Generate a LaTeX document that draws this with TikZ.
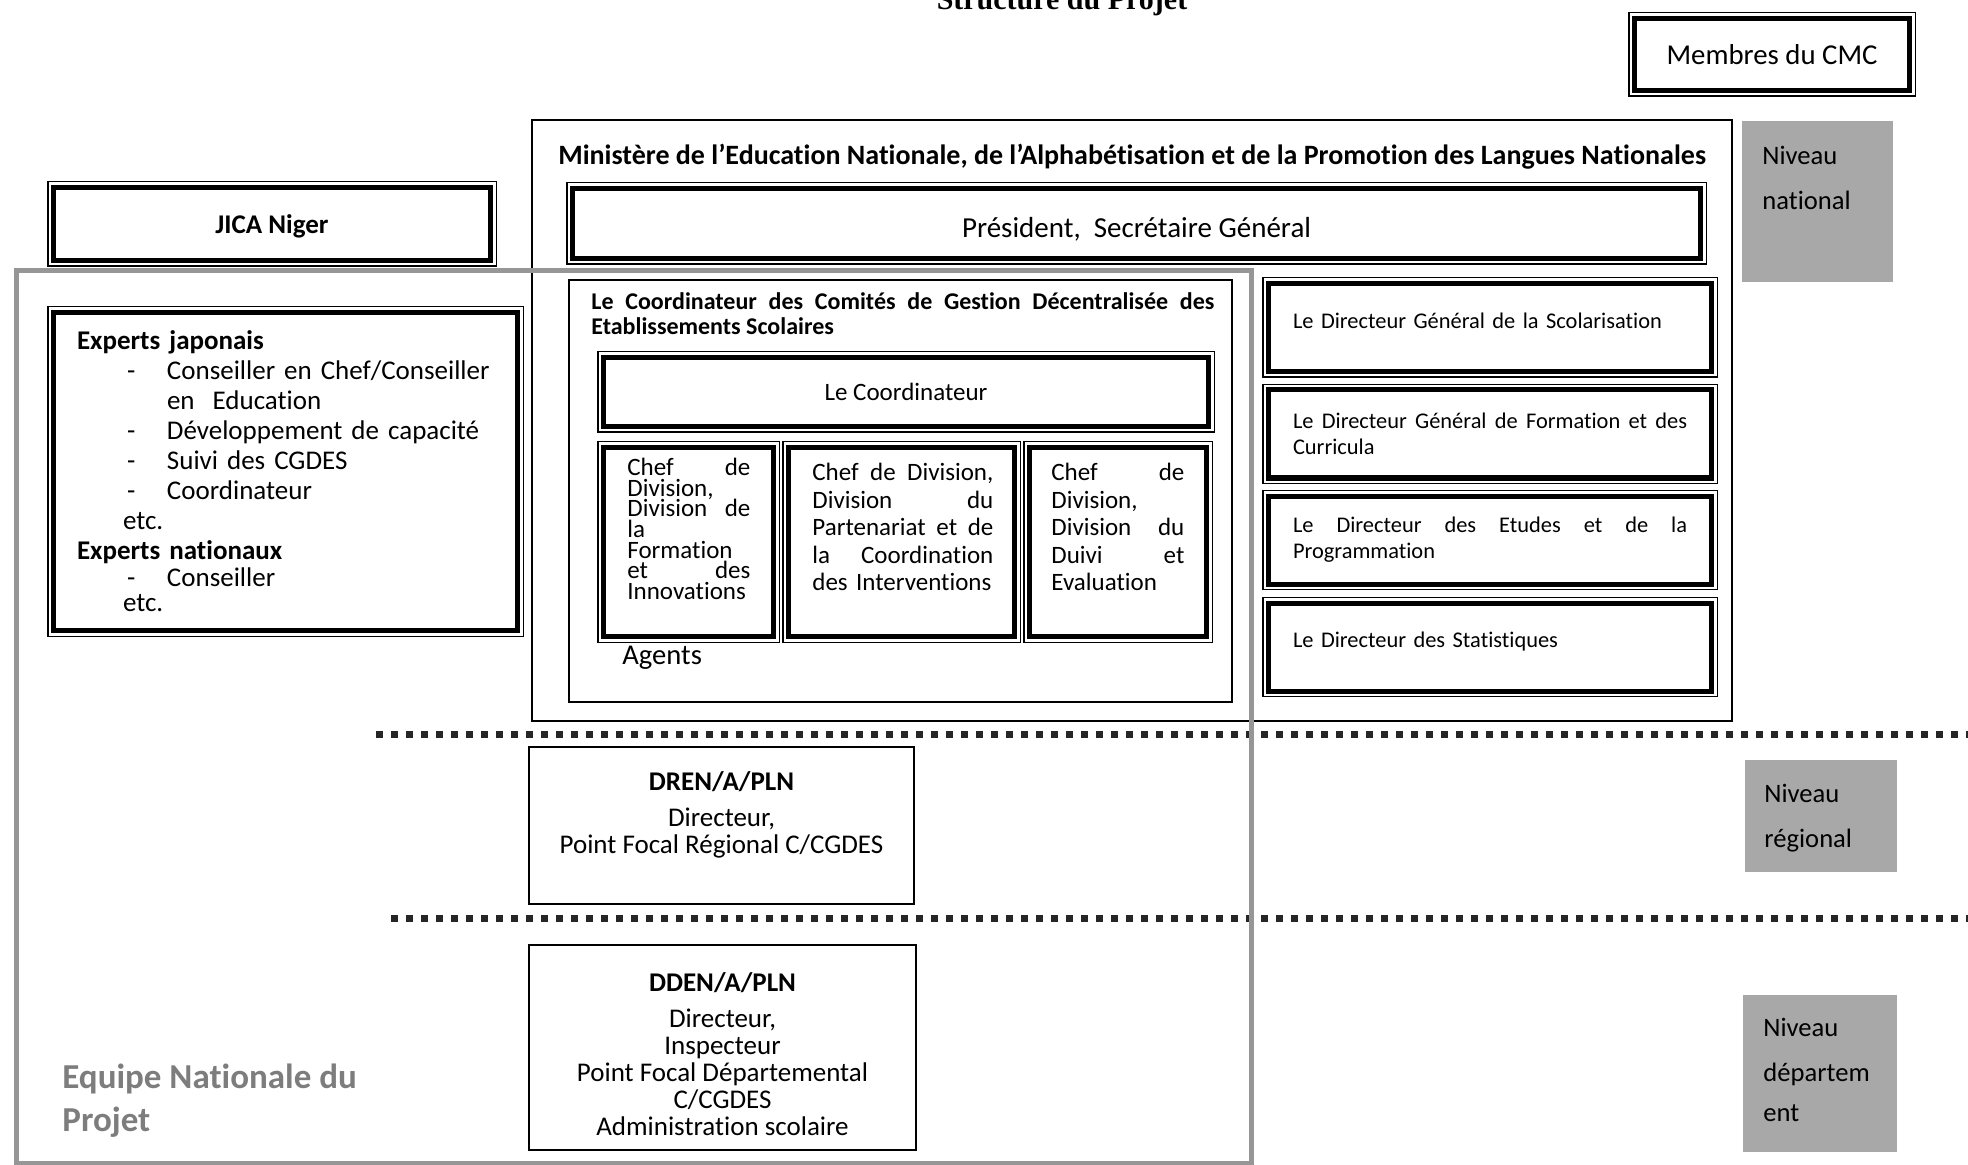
\documentclass[tikz,border=0pt]{standalone}
\usepackage{fontspec}
\setmainfont{Carlito}[Ligatures=NoCommon]
\newfontfamily\titlefont{Liberation Serif}

\definecolor{levelgray}{RGB}{168,168,168}
\definecolor{teamgray}{RGB}{150,150,150}
\definecolor{teamtext}{RGB}{125,125,125}

\newcommand{\dashitem}{\hspace*{25pt}\makebox[20pt][l]{-}}

\tikzset{
  dblbox/.style={draw, line width=2.5pt, outer sep=0pt, inner sep=0pt,
    append after command={\pgfextra{\draw[line width=0.6pt]
      ([shift={(-2.8pt,2.8pt)}]\tikzlastnode.north west) rectangle
      ([shift={(2.8pt,-2.8pt)}]\tikzlastnode.south east);}}},
  thinbox/.style={draw, line width=1pt, inner sep=0pt},
  dirbox/.style={dblbox, minimum width=221.5pt, minimum height=44pt, inner xsep=12.25pt,
    text width=197pt, align=left, font=\fontsize{11.2}{13}\selectfont},
  levelbox/.style={fill=levelgray, inner sep=0pt},
  leveltext/.style={anchor=north west, inner sep=0pt, align=left, font=\fontsize{13.3}{22.5}\selectfont},
  levelsep/.style={line width=3.5pt, dash pattern=on 3.5pt off 4pt, color=black!85},
}

\begin{document}
\begin{tikzpicture}[x=0.5pt, y=-0.5pt]
\useasboundingbox (0,0) rectangle (1968,1165);

% title, cut at the top of the page
\begin{scope}
\clip (0,0) rectangle (1968,1165);
\node[anchor=base, inner sep=0pt, font=\titlefont\bfseries\fontsize{15}{17}\selectfont] (title) at (1062,10) {Structure du Projet};
\end{scope}

\node[dblbox, minimum width=137.5pt, minimum height=36pt, font=\fontsize{14.4}{16}\selectfont] (cmc) at (1772,54.5) {Membres du CMC};

% ministry
\node[thinbox, minimum width=600pt, minimum height=300.5pt] (men) at (1132,420.5) {};
\node[anchor=base, inner sep=0pt, font=\bfseries\fontsize{14}{15}\selectfont] (mentitle) at (1132,165) {Ministère de l’Education Nationale, de l’Alphabétisation et de la Promotion des Langues Nationales};
\node[dblbox, minimum width=564pt, minimum height=35pt, text height=17pt, text depth=3pt, font=\fontsize{14.5}{16}\selectfont] (pres) at (1136.5,223.5) {Président,\ \ Secrétaire Général};

% JICA side
\node[dblbox, minimum width=218.5pt, minimum height=36.5pt, text depth=0pt, font=\bfseries\fontsize{13.5}{16}\selectfont] (jica) at (272,224) {JICA Niger};
\node[dblbox, minimum width=232pt, minimum height=159pt, inner xsep=11.75pt, text width=208.5pt, align=left, font=\fontsize{13.5}{15}\selectfont] (experts) at (285.5,471.5) {\textbf{Experts japonais}\\
\dashitem Conseiller en Chef/Conseiller\\
\hspace*{45pt}en\ \ Education\\
\dashitem Développement de capacité\\
\dashitem Suivi des CGDES\\
\dashitem Coordinateur\\
\hspace*{23pt}etc.\\
\textbf{Experts nationaux}\\[-1.5pt]
\dashitem Conseiller\\[-2.5pt]
\hspace*{23pt}etc.};

% coordinator of the CGDES
\node[thinbox, minimum width=331.5pt, minimum height=211pt] (cgdes) at (900.5,491) {};
\node[anchor=north west, inner sep=0pt, text width=311.5pt, align=justify, font=\bfseries\fontsize{12}{12.5}\selectfont] (cgdestitle) at (591,292) {Le Coordinateur des Comités de Gestion Décentralisée des\linebreak Etablissements Scolaires};
\node[dblbox, minimum width=302.5pt, minimum height=34.5pt, font=\fontsize{12.5}{14}\selectfont] (coord) at (906,392) {Le Coordinateur};

\node[dblbox, minimum width=85pt, minimum height=94.5pt] (chefA) at (688.5,542) {};
\node[dblbox, minimum width=113pt, minimum height=94.5pt] (chefB) at (901.5,542) {};
\node[dblbox, minimum width=88.5pt, minimum height=94.5pt] (chefC) at (1118,542) {};
\node[anchor=north west, inner sep=0pt, text width=61.5pt, align=left, font=\fontsize{12.5}{10.3}\selectfont] (chefAtxt) at (627,458) {Chef\hfill de\\Division,\\Division\hfill de\\la\\Formation\\et\hfill des\\Innovations};
\node[anchor=north west, inner sep=0pt, text width=90.5pt, align=left, font=\fontsize{12.5}{13.75}\selectfont] (chefBtxt) at (812,463) {Chef\hfill de\hfill Division,\\Division\hfill du\\Partenariat\hfill et\hfill de\\la\hfill Coordination\\des Interventions};
\node[anchor=north west, inner sep=0pt, text width=66.5pt, align=left, font=\fontsize{12.5}{13.75}\selectfont] (chefCtxt) at (1051,463) {Chef\hfill de\\Division,\\Division\hfill du\\Duivi\hfill et\\Evaluation};
\node[anchor=base west, inner sep=0pt, font=\fontsize{14.3}{16}\selectfont] (agents) at (622,664) {Agents};

% directors
\node[dirbox, text depth=7pt] (dgs) at (1490,327.5) {Le Directeur Général de la Scolarisation};
\node[dirbox] (dgfc) at (1490,434) {Le\hfill Directeur\hfill Général\hfill de\hfill Formation\hfill et\hfill des\\Curricula};
\node[dirbox] (dep) at (1490,540) {Le\hfill Directeur\hfill des\hfill Etudes\hfill et\hfill de\hfill la\\Programmation};
\node[dirbox, text depth=7pt] (ds) at (1490,647) {Le Directeur des Statistiques};

% levels
\node[levelbox, minimum width=75.5pt, minimum height=80.5pt] (natbox) at (1817.5,201.5) {};
\node[leveltext] (nattxt) at (1762,145.5) {Niveau\\national};
\node[levelbox, minimum width=76pt, minimum height=56pt] (regbox) at (1821,816) {};
\node[leveltext] (regtxt) at (1764,783.5) {Niveau\\régional};
\node[levelbox, minimum width=77pt, minimum height=78.5pt] (depbox) at (1820,1073.5) {};
\node[leveltext] (deptxt) at (1763,1017.5) {Niveau\\départem\\[-2.5pt]ent};

\draw[levelsep] (376,734) -- (1968,734);
\draw[levelsep] (391,918) -- (1968,918);

% regional and departmental offices
\node[thinbox, minimum width=192.5pt, minimum height=78.5pt] (dren) at (721.5,825.5) {};
\node[anchor=north, inner sep=0pt, align=center, font=\fontsize{13.5}{13.5}\selectfont] (drentxt) at (721.5,771) {\textbf{DREN/A/PLN}\\[4.5pt]Directeur,\\Point Focal Régional C/CGDES};
\node[thinbox, minimum width=193.5pt, minimum height=102.5pt] (dden) at (722.5,1047.5) {};
\node[anchor=north, inner sep=0pt, align=center, font=\fontsize{13.5}{13.5}\selectfont] (ddentxt) at (722.5,972) {\textbf{DDEN/A/PLN}\\[4.5pt]Directeur,\\Inspecteur\\Point Focal Départemental\\C/CGDES\\Administration scolaire};

% project team frame
\node[draw=teamgray, line width=2.5pt, inner sep=0pt, minimum width=617.5pt, minimum height=446pt] (team) at (633.5,717) {};
\node[anchor=north west, inner sep=0pt, align=left, text=teamtext, font=\bfseries\fontsize{17.5}{21.5}\selectfont] (teamlabel) at (62,1064) {Equipe Nationale du\\Projet};
\end{tikzpicture}
\end{document}
